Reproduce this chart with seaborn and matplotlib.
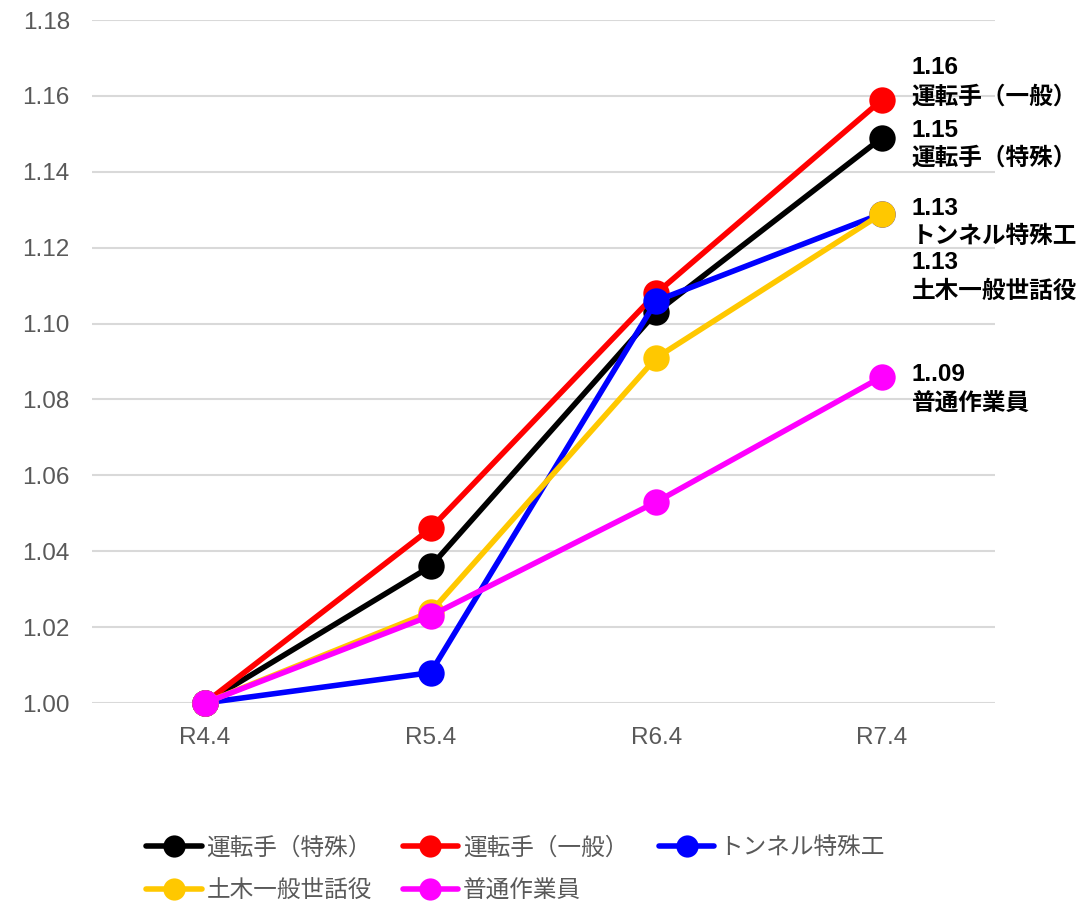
import matplotlib
matplotlib.use("Agg")
import matplotlib.pyplot as plt
import seaborn as sns
import pandas as pd
from matplotlib.lines import Line2D

periods = ["R4.4", "R5.4", "R6.4", "R7.4"]
series_names = ["運転手（特殊）", "運転手（一般）", "トンネル特殊工", "土木一般世話役", "普通作業員"]
v_tokushu = [1.000, 1.036, 1.103, 1.149]
v_ippan = [1.000, 1.046, 1.108, 1.159]
v_tunnel = [1.000, 1.008, 1.106, 1.129]
v_doboku = [1.000, 1.024, 1.091, 1.129]
v_futsu = [1.000, 1.023, 1.053, 1.086]
colors = ["#000000", "#ff0000", "#0000ff", "#ffc800", "#ff00ff"]

label_nums = ["1.15", "1.16", "1.13", "1.13", "1..09"]
label_names = ["運転手（特殊）", "運転手（一般）", "トンネル特殊工", "土木一般世話役", "普通作業員"]
label_num_y = [1.1510, 1.1674, 1.1302, 1.1160, 1.0865]
label_name_y = [1.1436, 1.1597, 1.1231, 1.1086, 1.0788]

yticks = [1.00, 1.02, 1.04, 1.06, 1.08, 1.10, 1.12, 1.14, 1.16, 1.18]

values = [v_tokushu, v_ippan, v_tunnel, v_doboku, v_futsu]
rows = []
for name, vals in zip(series_names, values):
    for p, v in zip(periods, vals):
        rows.append({"period": p, "value": v, "series": name})
df = pd.DataFrame(rows)

sns.set_theme(style="white")
plt.rcParams["font.family"] = ["Liberation Sans", "Noto Sans CJK JP", "DejaVu Sans"]

fig = plt.figure(figsize=(10.76, 9.06), dpi=100)
ax = fig.add_axes([92 / 1076, 1 - 703 / 906, (995 - 92) / 1076, (703 - 20) / 906])

sns.lineplot(data=df, x="period", y="value", hue="series", hue_order=series_names,
             palette=colors, marker="o", markersize=19, linewidth=4.0,
             markeredgewidth=0, sort=False, legend=False, ax=ax)
for ln in ax.lines:
    ln.set_clip_on(False)
    ln.set_solid_capstyle("round")

ax.set_xlim(-0.5, 3.5)
ax.set_ylim(1.0, 1.18)
ax.set_yticks(yticks)
ax.set_yticklabels([f"{t:.2f}" for t in yticks])
ax.set_xticks(range(len(periods)))
ax.set_xticklabels(periods)
ax.set_xlabel("")
ax.set_ylabel("")
ax.grid(axis="y", color="#d9d9d9", linewidth=1.5)
ax.set_axisbelow(True)
for s in ax.spines.values():
    s.set_visible(False)
ax.tick_params(axis="y", labelsize=17.5, labelcolor="#595959", pad=16, length=0)
ax.tick_params(axis="x", labelsize=17.5, labelcolor="#595959", pad=17, length=0)

for num, name, yn, ym in zip(label_nums, label_names, label_num_y, label_name_y):
    ax.text(3.13, yn, num, fontsize=17.5, fontweight="bold", color="#000000",
            ha="left", va="center",
            family=["Liberation Sans", "Noto Sans CJK JP"])
    ax.text(3.13, ym, name, fontsize=17, fontweight="bold", color="#000000",
            ha="left", va="center",
            family=["Noto Sans CJK JP", "DejaVu Sans"])

handles = [Line2D([0], [0], color=c, lw=4.0, marker="o", markersize=16, markeredgewidth=0)
           for c in colors]
order = [0, 3, 1, 4, 2]
leg = fig.legend([handles[i] for i in order], [series_names[i] for i in order],
                 ncol=3, loc="upper left", bbox_to_anchor=(125 / 1076, 1 - 815 / 906),
                 frameon=False, handlelength=2.35, handletextpad=0.2,
                 columnspacing=1.3, labelspacing=0.85,
                 prop={"family": ["Noto Sans CJK JP", "DejaVu Sans"], "size": 17})
for t in leg.get_texts():
    t.set_color("#595959")

fig.savefig("out.png", dpi=100)
